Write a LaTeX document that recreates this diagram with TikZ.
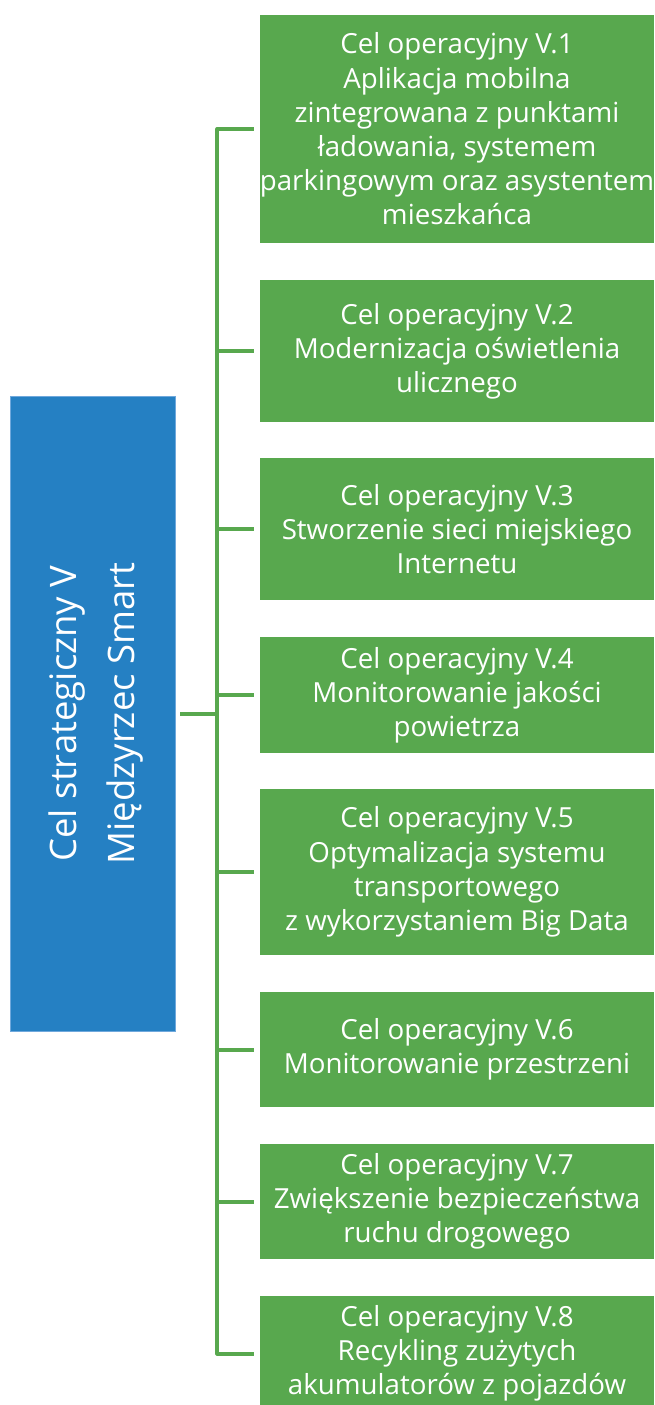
\documentclass[tikz,border=0pt]{standalone}
\usepackage{fontspec}
\setmainfont{Open Sans}
\definecolor{goalblue}{HTML}{2580C3}
\definecolor{goaledge}{HTML}{6FA8DC}
\definecolor{opgreen}{HTML}{58A84E}
\tikzset{
  stratbox/.style={fill=goalblue, draw=goaledge, line width=0.8pt, inner sep=0pt,
    minimum width=165pt, minimum height=635pt},
  opbox/.style={fill=opgreen, draw=none, inner sep=0pt, minimum width=394pt,
    text=white, align=center, font=\fontsize{27.7}{34.2}\selectfont},
  conn/.style={draw=opgreen, line width=4pt, line join=round}
}
\begin{document}
\begin{tikzpicture}[x=1pt, y=-1pt]
\useasboundingbox (0,0) rectangle (655,1405);
\begin{scope}
\clip (0,0) rectangle (655,1405);

% strategic goal
\node[stratbox] (s) at (92.5,713.5) {};
\node[rotate=90, text=white, align=center,
      font=\fontsize{36.5}{58}\selectfont] (st) at (96,713.5)
  {Cel strategiczny V\\Międzyrzec Smart};

% operational goals
\node[opbox, minimum height=228pt] (g1) at (457,129)
  {Cel operacyjny V.1\\Aplikacja mobilna\\zintegrowana z punktami\\ładowania, systemem\\parkingowym oraz asystentem\\mieszkańca};
\node[opbox, minimum height=142pt] (g2) at (457,351)
  {Cel operacyjny V.2\\Modernizacja oświetlenia\\ulicznego};
\node[opbox, minimum height=142pt] (g3) at (457,529)
  {Cel operacyjny V.3\\Stworzenie sieci miejskiego\\Internetu};
\node[opbox, minimum height=116pt] (g4) at (457,695)
  {Cel operacyjny V.4\\Monitorowanie jakości\\powietrza};
\node[opbox, minimum height=166pt] (g5) at (457,872)
  {Cel operacyjny V.5\\Optymalizacja systemu\\transportowego\\z wykorzystaniem Big Data};
\node[opbox, minimum height=115pt] (g6) at (457,1049.5)
  {Cel operacyjny V.6\\Monitorowanie przestrzeni};
\node[opbox, minimum height=115pt] (g7) at (457,1201.5)
  {Cel operacyjny V.7\\Zwiększenie bezpieczeństwa\\ruchu drogowego};
\node[opbox, minimum height=115pt] (g8) at (457,1353.5)
  {Cel operacyjny V.8\\Recykling zużytych\\akumulatorów z pojazdów};

% connectors: stub from the strategic goal, trunk, branches
\coordinate (j) at ([xshift=42pt]s.east);
\foreach \g in {g1,g2,g3,g4,g5,g6,g7,g8}{
  \draw[conn] ([xshift=5pt]s.east) -- (j) |- ([xshift=-6pt]\g.west);
}
\end{scope}
\end{tikzpicture}
\end{document}
